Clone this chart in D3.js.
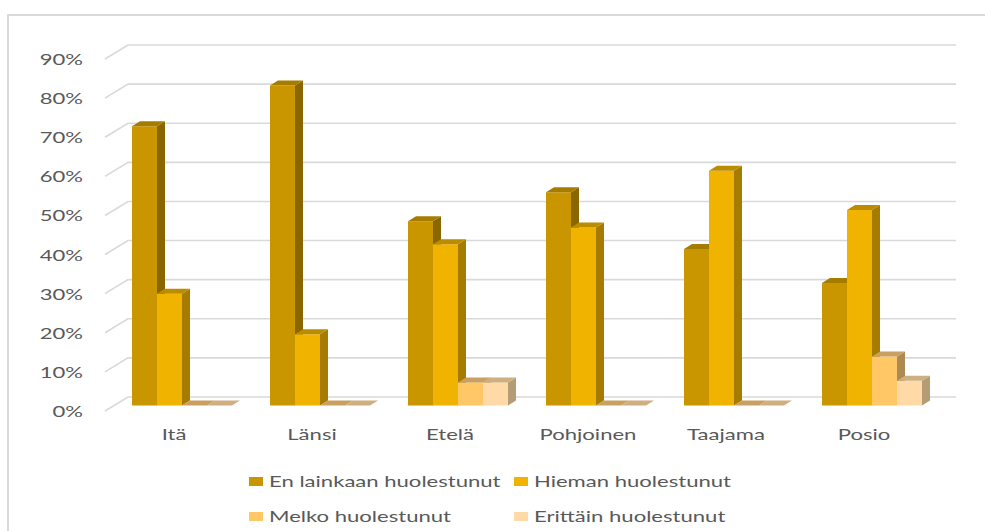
<!DOCTYPE html>
<html>
<head>
<meta charset="utf-8">
<script src="https://cdnjs.cloudflare.com/ajax/libs/d3/7.8.5/d3.min.js"></script>
<style>
  body { margin: 0; background: #fff; }
  svg { display: block; }
  text { font-family: Lato, "Open Sans", sans-serif; fill: #595959; }
</style>
</head>
<body>
<svg id="grafico" width="985" height="531"></svg>
<script>
// Datos del gráfico (porcentajes)
var alueet = ["Itä", "Länsi", "Etelä", "Pohjoinen", "Taajama", "Posio"];
var sarjat = ["En lainkaan huolestunut", "Hieman huolestunut", "Melko huolestunut", "Erittäin huolestunut"];
var enLainkaan = [71.4, 81.8, 47.1, 54.5, 40, 31.3];
var hieman = [28.6, 18.2, 41.2, 45.5, 60, 50];
var melko = [0, 0, 5.9, 0, 0, 12.5];
var erittain = [0, 0, 5.9, 0, 0, 6.3];
var ticks = [0, 10, 20, 30, 40, 50, 60, 70, 80, 90];

var valores = [enLainkaan, hieman, melko, erittain];

// colores: frente, lado, arriba
var colores = [
  { front: "#c99600", side: "#8a6600", top: "#a67c00" },
  { front: "#f0b300", side: "#a57b00", top: "#bb8c00" },
  { front: "#ffc766", side: "#ad8a52", top: "#c9a062" },
  { front: "#ffdaa6", side: "#b49c76", top: "#cfae80" }
];

var svg = d3.select("#grafico");
var sx = 1.38; // texto estirado en horizontal

// marco exterior
svg.append("rect")
  .attr("x", 8).attr("y", 15)
  .attr("width", 1000).attr("height", 600)
  .attr("fill", "#fff")
  .attr("stroke", "#d9d9d9")
  .attr("stroke-width", 2);

// profundidad 3D
var DX = 23, DY = -14;
var frenteX = 105, fondoX = 956;

var y = d3.scaleLinear().domain([0, 90]).range([411, 59]);
var x = d3.scaleBand().domain(alueet).range([frenteX, fondoX - DX]);
var x1 = d3.scaleBand().domain(sarjat).range([18, 118]);

// rejilla: diagonal en la pared izquierda + línea en el fondo
var rejilla = svg.append("g");
ticks.forEach(function (t) {
  rejilla.append("path")
    .attr("d", "M" + frenteX + "," + y(t) + "L" + (frenteX + DX) + "," + (y(t) + DY) + "H" + fondoX)
    .attr("fill", "none")
    .attr("stroke", "#d9d9d9")
    .attr("stroke-width", 1.6);
  svg.append("text")
    .attr("transform", "translate(83," + (y(t) + 6) + ") scale(" + sx + ",1)")
    .attr("text-anchor", "end")
    .style("font-size", "16px")
    .text(t + "%");
});

// barras 3D, de izquierda a derecha
var bx = 9, by = -5.5;   // desplazamiento de la cara frontal
var px = 8, py = -5;     // fondo de la barra
var barras = svg.append("g");
alueet.forEach(function (a, i) {
  sarjat.forEach(function (s, j) {
    var v = valores[j][i];
    var x0 = x(a) + x1(s) + bx;
    var w = x1.bandwidth();
    var yb = y(0) + by;
    var yt = y(v) + by;
    var c = colores[j];
    var g = barras.append("g");
    // cara frontal
    g.append("path")
      .attr("d", "M" + x0 + "," + yb + "H" + (x0 + w) + "V" + yt + "H" + x0 + "Z")
      .attr("fill", c.front);
    // lado derecho
    g.append("path")
      .attr("d", "M" + (x0 + w) + "," + yb + "L" + (x0 + w + px) + "," + (yb + py) +
        "L" + (x0 + w + px) + "," + (yt + py) + "L" + (x0 + w) + "," + yt + "Z")
      .attr("fill", c.side);
    // cara superior
    g.append("path")
      .attr("d", "M" + x0 + "," + yt + "H" + (x0 + w) + "L" + (x0 + w + px) + "," + (yt + py) +
        "H" + (x0 + px) + "Z")
      .attr("fill", c.top);
  });
});

// etiquetas de categoría
alueet.forEach(function (a) {
  svg.append("text")
    .attr("transform", "translate(" + (x(a) + x.bandwidth() / 2) + ",440) scale(" + sx + ",1)")
    .attr("text-anchor", "middle")
    .style("font-size", "16px")
    .text(a);
});

// leyenda
var posLeyenda = [[249, 487], [514, 487], [249, 522], [514, 522]];
sarjat.forEach(function (s, j) {
  var p = posLeyenda[j];
  svg.append("rect")
    .attr("x", p[0]).attr("y", p[1] - 10)
    .attr("width", 14).attr("height", 9)
    .attr("fill", colores[j].front);
  svg.append("text")
    .attr("transform", "translate(" + (p[0] + 20) + "," + p[1] + ") scale(" + sx + ",1)")
    .style("font-size", "16px")
    .text(s);
});
</script>
</body>
</html>
